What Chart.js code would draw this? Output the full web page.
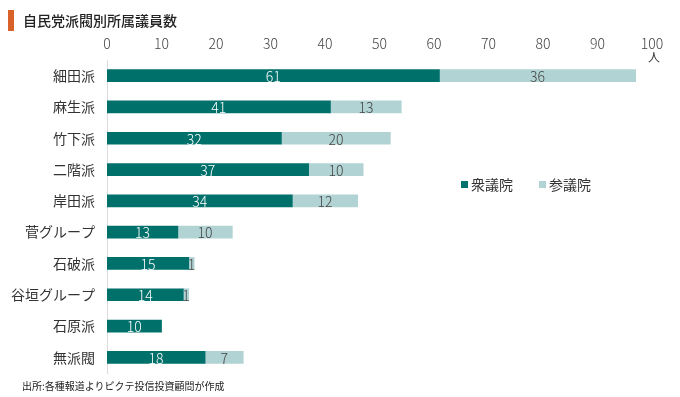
<!DOCTYPE html>
<html lang="ja">
<head>
<meta charset="UTF-8">
<title>自民党派閥別所属議員数</title>
<script src="https://cdn.jsdelivr.net/npm/chart.js"></script>
<style>
    body {
        margin: 0;
        background: #fff;
        font-family: "Noto Sans CJK JP", sans-serif;
    }
    .wrap {
        position: relative;
        width: 680px;
        height: 397px;
    }
    .title {
        position: absolute;
        left: 8px;
        top: 10px;
        height: 21px;
        border-left: 6px solid #d9622b;
        padding-left: 9px;
        font-size: 14px;
        line-height: 21px;
        color: #222;
        font-weight: 500;
    }
    .source {
        position: absolute;
        left: 22px;
        top: 378px;
        font-size: 10px;
        color: #222;
    }
</style>
</head>
<body>
<div class="wrap">
    <canvas id="factionChart" width="680" height="397"></canvas>
    <div class="title">自民党派閥別所属議員数</div>
    <div class="source">出所:各種報道よりピクテ投信投資顧問が作成</div>
</div>

<script>
    // data
    const factions = ['細田派', '麻生派', '竹下派', '二階派', '岸田派', '菅グループ', '石破派', '谷垣グループ', '石原派', '無派閥'];
    const lowerHouse = [61, 41, 32, 37, 34, 13, 15, 14, 10, 18];
    const upperHouse = [36, 13, 20, 10, 12, 10, 1, 1, 0, 7];
    const seriesNames = ['衆議院', '参議院'];
    const xTicks = [0, 10, 20, 30, 40, 50, 60, 70, 80, 90, 100];

    const darkTeal = '#00706b';
    const lightTeal = '#b2d3d4';
    const font = '"Noto Sans CJK JP", sans-serif';

    // value labels inside the bars + legend + unit
    const extras = {
        id: 'extras',
        afterDatasetsDraw(chart) {
            const ctx = chart.ctx;
            ctx.save();
            ctx.font = '300 14px ' + font;
            ctx.textAlign = 'center';
            ctx.textBaseline = 'middle';
            chart.data.datasets.forEach((ds, i) => {
                const meta = chart.getDatasetMeta(i);
                meta.data.forEach((bar, j) => {
                    const v = ds.data[j];
                    if (!v) return;
                    ctx.fillStyle = i === 0 ? '#fff' : '#444';
                    ctx.fillText(v, (bar.x + bar.base) / 2, bar.y + 1);
                });
            });

            // unit under the last tick
            const xs = chart.scales.x;
            ctx.fillStyle = '#333';
            ctx.font = '12px ' + font;
            ctx.fillText('人', xs.getPixelForValue(100) + 2, chart.chartArea.top - 3);

            // legend
            let lx = 461;
            const ly = 184;
            ctx.font = '14px ' + font;
            ctx.textAlign = 'left';
            chart.data.datasets.forEach(ds => {
                ctx.fillStyle = ds.backgroundColor;
                ctx.fillRect(lx, ly - 3, 7, 7);
                ctx.fillStyle = '#333';
                ctx.fillText(ds.label, lx + 10, ly + 1);
                lx += 78;
            });
            ctx.restore();
        }
    };

    const ctx = document.getElementById('factionChart').getContext('2d');
    const factionChart = new Chart(ctx, {
        type: 'bar',
        data: {
            labels: factions,
            datasets: [{
                label: seriesNames[0],
                data: lowerHouse,
                backgroundColor: darkTeal,
                barThickness: 12
            }, {
                label: seriesNames[1],
                data: upperHouse,
                backgroundColor: lightTeal,
                barThickness: 12
            }]
        },
        options: {
            indexAxis: 'y',
            responsive: false,
            animation: false,
            layout: {
                padding: { left: 0, right: 28, top: 34, bottom: 24 }
            },
            plugins: {
                legend: { display: false },
                tooltip: { enabled: false }
            },
            scales: {
                x: {
                    position: 'top',
                    stacked: true,
                    min: 0,
                    max: 100,
                    afterBuildTicks: scale => {
                        scale.ticks = xTicks.map(v => ({ value: v }));
                    },
                    afterFit: scale => { scale.height = 26; },
                    grid: { display: false },
                    border: { display: false },
                    ticks: {
                        padding: 0,
                        color: '#444',
                        font: { size: 14, family: font, weight: 300 }
                    }
                },
                y: {
                    stacked: true,
                    afterFit: scale => { scale.width = 107; },
                    grid: { display: false, drawTicks: false },
                    border: { display: true, color: '#dcdcdc' },
                    ticks: {
                        padding: 12,
                        color: '#333',
                        font: { size: 14, family: font }
                    }
                }
            }
        },
        plugins: [extras]
    });
</script>
</body>
</html>
